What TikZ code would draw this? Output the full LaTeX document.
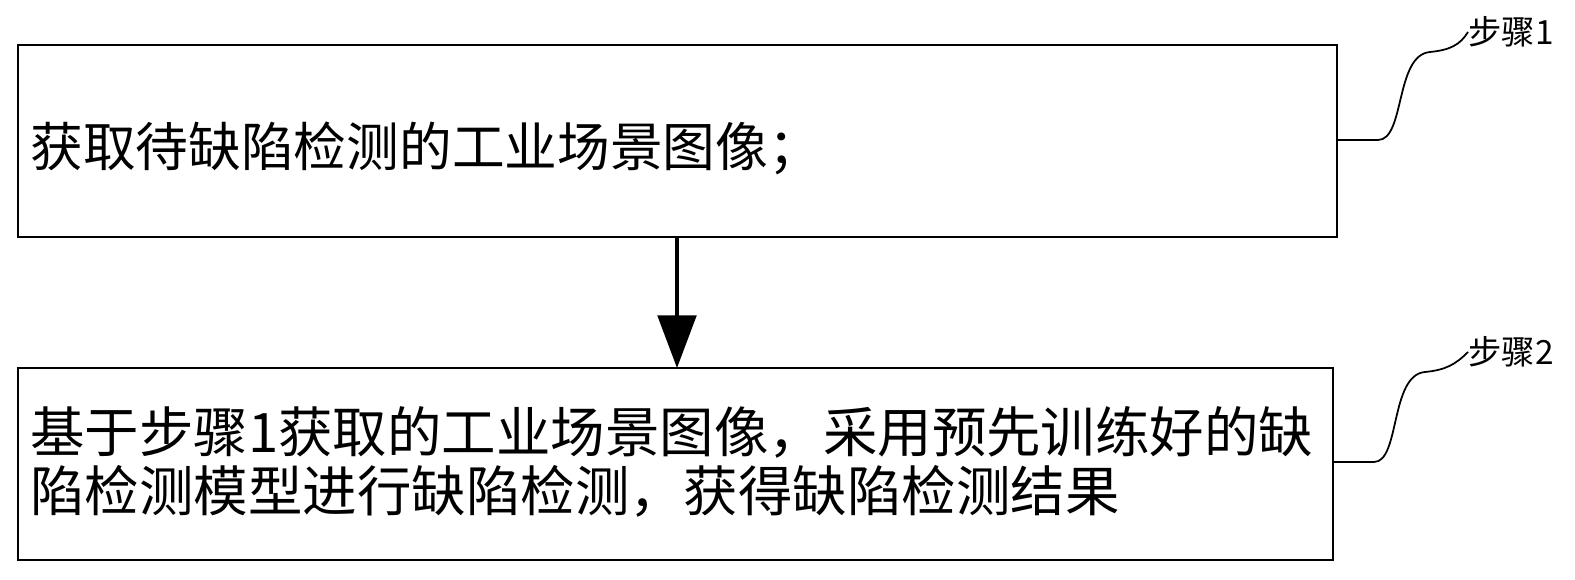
\documentclass[tikz,border=0pt]{standalone}
\usepackage{fontspec}
\newfontfamily\cjk{Noto Sans CJK SC}
\usetikzlibrary{arrows.meta}
\begin{document}
\begin{tikzpicture}[x=0.02cm,y=-0.02cm,
  lbl/.style={font=\cjk\fontsize{19pt}{21pt}\selectfont,anchor=west,inner sep=0pt},
  txt/.style={anchor=west,inner sep=0pt,align=left}]
\useasboundingbox (0,0) rectangle (1575,580);
\draw[line width=1.6pt] (18,45) rectangle (1337,237);
\draw[line width=1.6pt] (18,368) rectangle (1333,560);
\coordinate (b1) at (1337,140);
\coordinate (b2) at (1333,462);
\coordinate (t1) at (677,237);
\coordinate (t2) at (677,368);
\node[txt,font=\cjk\fontsize{30pt}{36pt}\selectfont] (x1) at (30,148) {获取待缺陷检测的工业场景图像；};
\node[txt,font=\cjk\fontsize{31pt}{34pt}\selectfont] (x2) at (30,462) {基于步骤1获取的工业场景图像，采用预先训练好的缺\\陷检测模型进行缺陷检测，获得缺陷检测结果};
\node[lbl] (l1) at (1468,32) {步骤1};
\node[lbl] (l2) at (1468,352) {步骤2};
\draw[line width=2pt,-{Triangle[length=30pt,width=22pt]}] (t1) -- (t2);
\draw[line width=1pt] (b1) -- (1378,140) .. controls (1405,140) and (1395,55) .. (1430,52) .. controls (1450,50) and (1460,45) .. (l1.west);
\draw[line width=1pt] (b2) -- (1374,462) .. controls (1400,462) and (1390,375) .. (1425,372) .. controls (1445,370) and (1455,365) .. (l2.west);
\end{tikzpicture}
\end{document}
